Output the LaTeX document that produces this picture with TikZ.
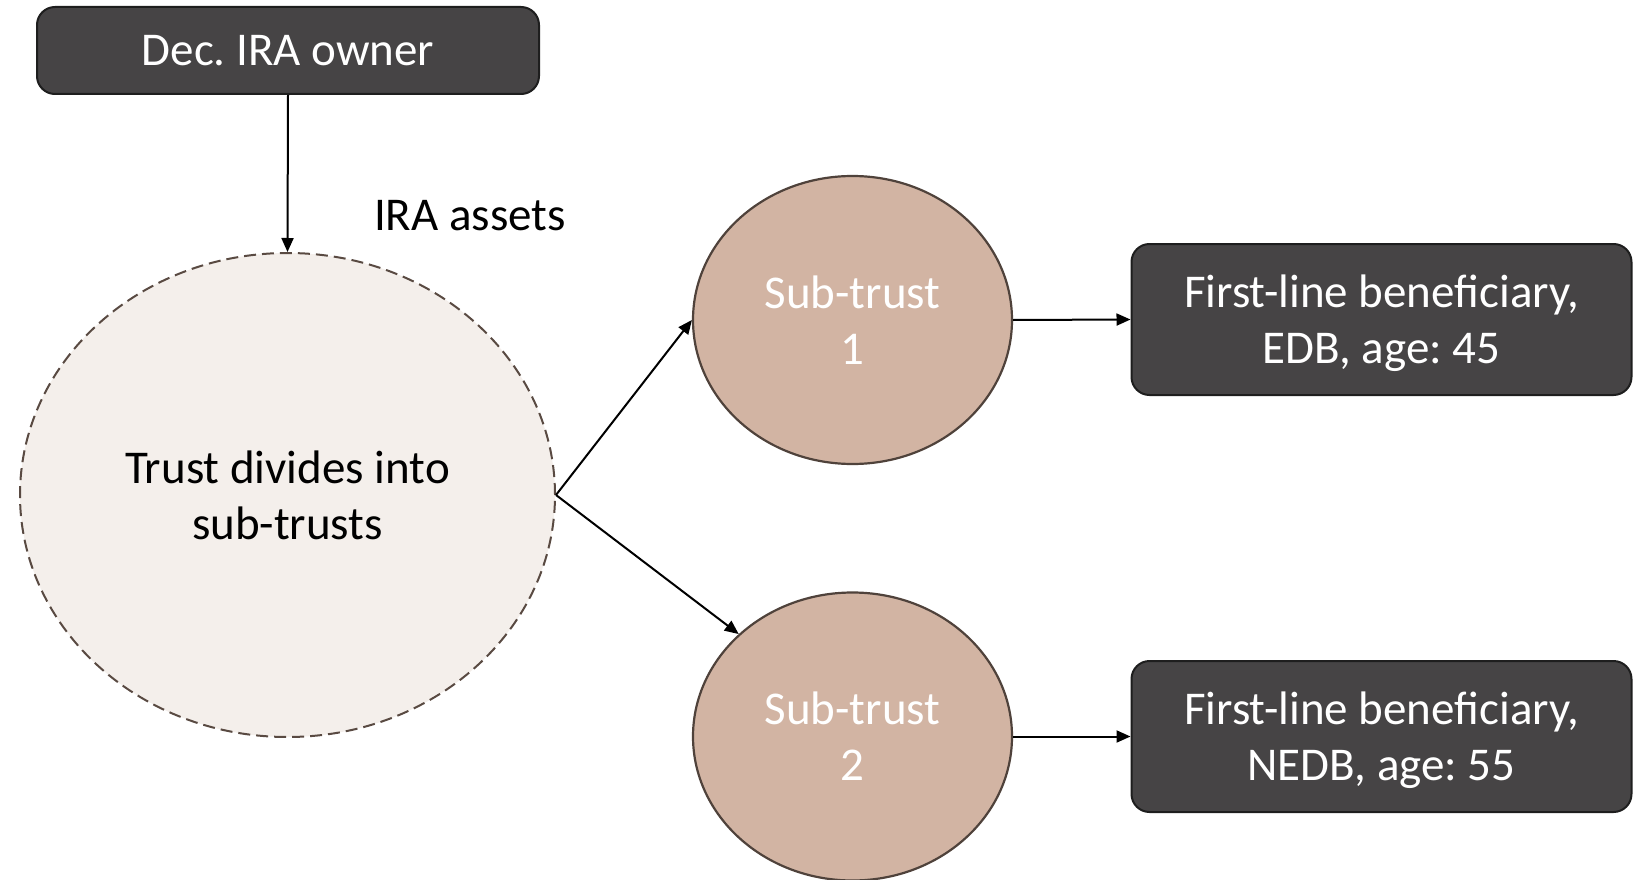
\documentclass[tikz,border=0pt]{standalone}
\usepackage{fontspec}
\setmainfont{Carlito}
\usetikzlibrary{shapes.geometric,arrows.meta}
\frenchspacing

\definecolor{boxdark}{HTML}{464445}
\definecolor{boxline}{HTML}{1E1E1E}
\definecolor{subfill}{HTML}{D2B4A3}
\definecolor{subline}{HTML}{4F423B}
\definecolor{trustfill}{HTML}{F4EFEB}
\definecolor{trustline}{HTML}{594A42}

\tikzset{
  txt/.style={font=\fontsize{47}{56}\selectfont, align=center},
  darkbox/.style={txt, rectangle, rounded corners=18pt, draw=boxline, line width=2pt,
    fill=boxdark, text=white, inner sep=0pt, text depth=0pt},
  subtrust/.style={txt, ellipse, draw=subline, line width=2.2pt, fill=subfill,
    text=white, inner sep=0pt, minimum width=319pt, minimum height=288pt},
  trustnode/.style={txt, ellipse, draw=trustline, line width=2pt, fill=trustfill,
    dash pattern=on 12pt off 6pt, inner sep=0pt,
    minimum width=535pt, minimum height=484pt},
  link/.style={line width=2pt, -{Triangle[length=14pt,width=12pt]}}
}

\begin{document}
\begin{tikzpicture}[x=1pt,y=-1pt]
  \useasboundingbox (0,0) rectangle (1639,880);

  % owner at the top
  \node[darkbox, minimum width=502pt, minimum height=87pt] (owner) at (288,50.5)
    {Dec. IRA owner};

  % trust splitting into sub-trusts
  \node[trustnode] (trust) at (287.5,495) {Trust divides into\\sub-trusts};
  \node[txt] (assets) at (470,216) {IRA assets};

  \node[subtrust] (st1) at (852.5,320) {Sub-trust\\1};
  \node[subtrust] (st2) at (852.5,736.5) {Sub-trust\\2};

  % beneficiaries
  \node[darkbox, minimum width=500pt, minimum height=151pt] (ben1) at (1381.5,319.5)
    {First-line beneficiary,\\EDB, age: 45};
  \node[darkbox, minimum width=500pt, minimum height=151pt] (ben2) at (1381.5,736.5)
    {First-line beneficiary,\\NEDB, age: 55};

  % connectors
  \draw[link] (owner.south) -- (trust.north);
  \draw[link] (trust.east) -- (st1.west);
  \draw[link] (trust.east) -- (st2.138);
  \draw[link] (st1.east) -- (ben1.west);
  \draw[link] (st2.east) -- (ben2.west);
\end{tikzpicture}
\end{document}
